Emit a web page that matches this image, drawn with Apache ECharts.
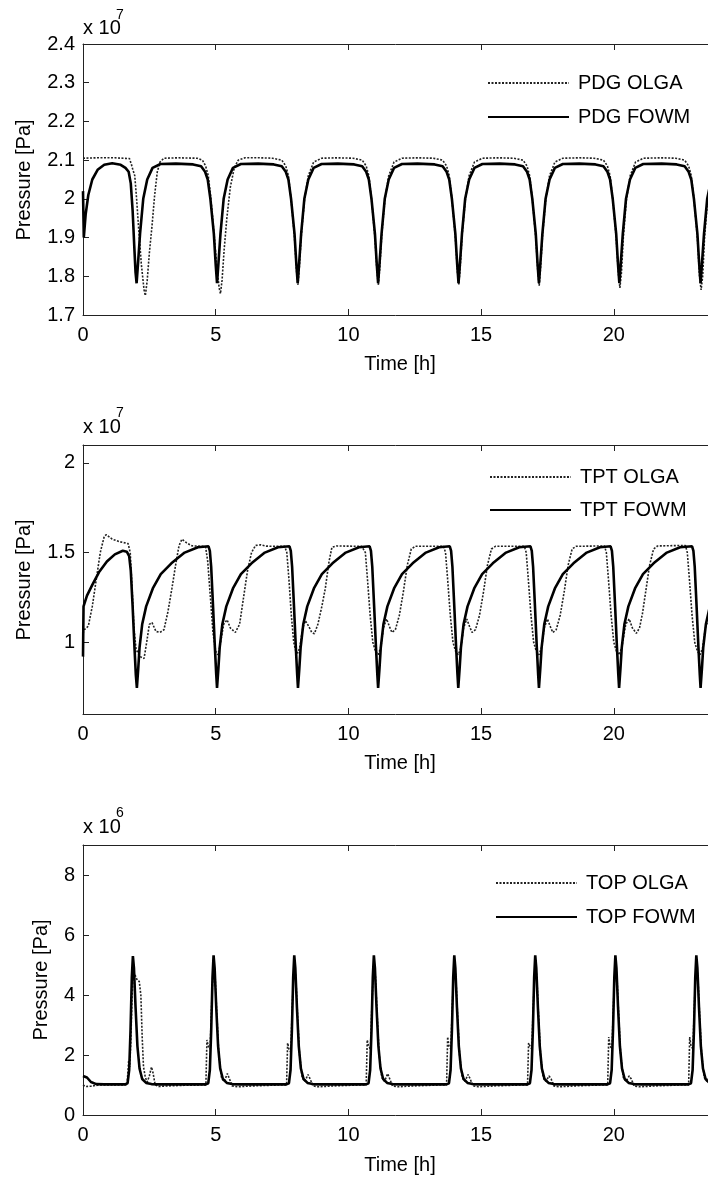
<!DOCTYPE html>
<html>
<head>
<meta charset="utf-8">
<script src="https://cdn.jsdelivr.net/npm/echarts@6/dist/echarts.min.js"></script>
<style>
html,body{margin:0;padding:0;background:#fff;}
#chart{width:708px;height:1178px;}
</style>
</head>
<body>
<div id="chart"></div>
<script>
// ---- data (time [h], pressure in displayed units) ----
const xTicks = [0, 5, 10, 15, 20];
const xTopTicks = [5, 10, 15, 20];
const pdgTicks = [1.7, 1.8, 1.9, 2, 2.1, 2.2, 2.3, 2.4];
const tptTicks = [1, 1.5, 2];
const topTicks = [0, 2, 4, 6, 8];
const legendPdg = ['PDG OLGA', 'PDG FOWM'];
const legendTpt = ['TPT OLGA', 'TPT FOWM'];
const legendTop = ['TOP OLGA', 'TOP FOWM'];

// PDG pressure, x 10^7 Pa
const pdgOlga = [[0,2.105],[0.5,2.106],[1.2,2.106],[1.75,2.104],[1.82,2.09],[1.88,2.075],[1.95,2.06],[2.02,2.0],[2.1,1.92],[2.2,1.83],[2.3,1.765],[2.35,1.75],[2.42,1.79],[2.5,1.86],[2.6,1.93],[2.7,2.01],[2.8,2.07],[2.9,2.095],[3.05,2.105],[3.6,2.106],
[4.3,2.105],[4.5,2.1],[4.62,2.085],[4.72,2.06],[4.82,2.0],[4.95,1.9],[5.05,1.82],[5.13,1.77],[5.18,1.755],[5.24,1.79],[5.32,1.87],[5.42,1.95],[5.55,2.03],[5.7,2.08],[5.85,2.1],[6.1,2.106],[6.7,2.106],
[7.14,2.105],[7.49,2.1],[7.64,2.085],[7.74,2.06],[7.84,2.0],[7.97,1.9],[8.05,1.81],[8.1,1.778],[8.15,1.82],[8.23,1.91],[8.35,2.0],[8.49,2.06],[8.69,2.095],[8.99,2.105],[9.6,2.106],
[10.17,2.105],[10.52,2.1],[10.67,2.085],[10.77,2.06],[10.87,2.0],[11.0,1.9],[11.08,1.81],[11.13,1.778],[11.18,1.82],[11.26,1.91],[11.38,2.0],[11.52,2.06],[11.72,2.095],[12.02,2.105],[12.6,2.106],
[13.2,2.105],[13.55,2.1],[13.7,2.085],[13.8,2.06],[13.9,2.0],[14.03,1.9],[14.11,1.81],[14.16,1.778],[14.21,1.82],[14.29,1.91],[14.41,2.0],[14.55,2.06],[14.75,2.095],[15.05,2.105],[15.7,2.106],
[16.23,2.105],[16.58,2.1],[16.73,2.085],[16.83,2.06],[16.93,2.0],[17.06,1.9],[17.14,1.81],[17.19,1.776],[17.24,1.82],[17.32,1.91],[17.44,2.0],[17.58,2.06],[17.78,2.095],[18.08,2.105],[18.7,2.106],
[19.26,2.105],[19.61,2.1],[19.76,2.085],[19.86,2.06],[19.96,2.0],[20.09,1.9],[20.17,1.81],[20.23,1.77],[20.29,1.81],[20.36,1.9],[20.48,2.0],[20.62,2.06],[20.82,2.095],[21.12,2.105],[21.8,2.106],
[22.32,2.105],[22.67,2.1],[22.82,2.085],[22.92,2.06],[23.02,2.0],[23.15,1.9],[23.23,1.8],[23.29,1.765],[23.35,1.8],[23.42,1.9],[23.54,2.0],[23.68,2.06]];

const pdgFowm = [[0,2.02],[0.03,1.9],[0.1,1.96],[0.2,2.01],[0.35,2.05],[0.55,2.075],[0.8,2.088],[1.1,2.092],[1.42,2.088],[1.6,2.08],[1.72,2.07],[1.8,2.04],[1.87,1.97],[1.93,1.88],[1.98,1.81],[2.02,1.782],[2.07,1.83],[2.15,1.91],[2.27,2.0],[2.42,2.05],[2.62,2.08],[2.92,2.09],[3.5,2.091],
[4.15,2.089],[4.45,2.084],[4.6,2.07],[4.7,2.05],[4.8,2.0],[4.93,1.91],[5.0,1.83],[5.05,1.782],[5.1,1.83],[5.18,1.91],[5.3,2.0],[5.45,2.05],[5.65,2.08],[5.95,2.09],[6.6,2.091],
[7.19,2.089],[7.49,2.084],[7.64,2.07],[7.74,2.05],[7.84,2.0],[7.97,1.91],[8.04,1.83],[8.09,1.782],[8.14,1.83],[8.22,1.91],[8.34,2.0],[8.49,2.05],[8.69,2.08],[8.99,2.09],[9.6,2.091],
[10.22,2.089],[10.52,2.084],[10.67,2.07],[10.77,2.05],[10.87,2.0],[11.0,1.91],[11.07,1.83],[11.12,1.782],[11.17,1.83],[11.25,1.91],[11.37,2.0],[11.52,2.05],[11.72,2.08],[12.02,2.09],[12.6,2.091],
[13.25,2.089],[13.55,2.084],[13.7,2.07],[13.8,2.05],[13.9,2.0],[14.03,1.91],[14.1,1.83],[14.15,1.782],[14.2,1.83],[14.28,1.91],[14.4,2.0],[14.55,2.05],[14.75,2.08],[15.05,2.09],[15.7,2.091],
[16.28,2.089],[16.58,2.084],[16.73,2.07],[16.83,2.05],[16.93,2.0],[17.06,1.91],[17.13,1.83],[17.18,1.782],[17.23,1.83],[17.31,1.91],[17.43,2.0],[17.58,2.05],[17.78,2.08],[18.08,2.09],[18.7,2.091],
[19.31,2.089],[19.61,2.084],[19.76,2.07],[19.86,2.05],[19.96,2.0],[20.09,1.91],[20.16,1.83],[20.21,1.782],[20.26,1.83],[20.34,1.91],[20.46,2.0],[20.61,2.05],[20.81,2.08],[21.11,2.09],[21.8,2.091],
[22.37,2.089],[22.67,2.084],[22.82,2.07],[22.92,2.05],[23.02,2.0],[23.15,1.91],[23.22,1.83],[23.27,1.782],[23.32,1.83],[23.4,1.91],[23.52,2.0],[23.67,2.05]];

// TPT pressure, x 10^7 Pa
const tptOlga = [[0,1.05],[0.05,1.07],[0.2,1.09],[0.35,1.2],[0.5,1.35],[0.65,1.5],[0.8,1.59],[0.88,1.6],[1.1,1.575],[1.4,1.56],[1.7,1.55],[1.78,1.5],[1.85,1.3],[1.92,1.08],[2.0,0.96],[2.15,0.92],[2.3,0.91],[2.4,1.0],[2.5,1.1],[2.6,1.11],[2.75,1.06],[2.9,1.055],[3.05,1.07],[3.2,1.17],[3.35,1.3],[3.5,1.44],[3.62,1.54],[3.73,1.575],[3.9,1.555],[4.1,1.538],[4.5,1.535],
[4.62,1.532],[4.7,1.45],[4.8,1.25],[4.9,1.05],[5.0,0.95],[5.08,0.93],[5.15,0.97],[5.3,1.1],[5.43,1.125],[5.55,1.08],[5.74,1.055],[5.9,1.1],[6.05,1.25],[6.2,1.4],[6.35,1.5],[6.5,1.54],[6.7,1.543],[6.9,1.536],[7.5,1.535],
[7.6,1.535],[7.68,1.5],[7.76,1.35],[7.85,1.15],[7.94,1.0],[8.02,0.95],[8.1,0.94],[8.18,0.98],[8.28,1.08],[8.38,1.12],[8.5,1.09],[8.62,1.055],[8.72,1.048],[8.85,1.1],[9.0,1.2],[9.13,1.3],[9.27,1.45],[9.38,1.53],[9.55,1.537],[10.5,1.535],
[10.57,1.535],[10.64,1.5],[10.72,1.35],[10.82,1.15],[10.92,1.0],[11.02,0.95],[11.12,0.93],[11.22,0.97],[11.32,1.08],[11.44,1.13],[11.54,1.09],[11.64,1.055],[11.77,1.07],[11.92,1.15],[12.07,1.28],[12.22,1.43],[12.37,1.52],[12.52,1.535],[13.5,1.535],
[13.59,1.535],[13.66,1.5],[13.74,1.35],[13.84,1.15],[13.94,1.0],[14.04,0.95],[14.14,0.93],[14.24,0.97],[14.34,1.08],[14.46,1.13],[14.56,1.09],[14.66,1.055],[14.79,1.07],[14.94,1.15],[15.09,1.28],[15.24,1.43],[15.39,1.52],[15.54,1.535],[16.5,1.535],
[16.63,1.535],[16.7,1.5],[16.78,1.35],[16.88,1.15],[16.98,1.0],[17.08,0.95],[17.18,0.93],[17.28,0.97],[17.38,1.08],[17.5,1.13],[17.6,1.09],[17.7,1.055],[17.83,1.07],[17.98,1.15],[18.13,1.28],[18.28,1.43],[18.43,1.52],[18.58,1.535],[19.5,1.537],
[19.65,1.537],[19.72,1.5],[19.8,1.35],[19.9,1.15],[20.0,1.0],[20.1,0.95],[20.2,0.93],[20.3,0.97],[20.45,1.1],[20.58,1.13],[20.7,1.08],[20.85,1.05],[20.97,1.08],[21.08,1.16],[21.2,1.28],[21.35,1.43],[21.5,1.52],[21.65,1.537],[22.6,1.54],
[22.7,1.54],[22.77,1.5],[22.85,1.35],[22.95,1.15],[23.05,1.0],[23.15,0.95],[23.25,0.93],[23.35,0.97],[23.45,1.08],[23.57,1.13],[23.67,1.09]];

const tptFowm = [[0,0.92],[0.02,1.2],[0.15,1.26],[0.35,1.32],[0.6,1.39],[0.9,1.45],[1.2,1.49],[1.5,1.51],[1.65,1.505],[1.74,1.48],[1.8,1.4],[1.87,1.2],[1.94,0.97],[1.99,0.82],[2.03,0.745],
[2.08,0.85],[2.13,0.97],[2.23,1.1],[2.38,1.2],[2.63,1.3],[2.93,1.38],[3.33,1.44],[3.83,1.5],[4.33,1.53],[4.73,1.535],[4.78,1.51],[4.83,1.42],[4.9,1.2],[4.97,0.97],[5.02,0.82],[5.05,0.745],
[5.1,0.85],[5.15,0.97],[5.25,1.1],[5.4,1.2],[5.65,1.3],[5.95,1.38],[6.35,1.44],[6.85,1.5],[7.35,1.53],[7.78,1.535],[7.83,1.51],[7.88,1.42],[7.95,1.2],[8.02,0.97],[8.07,0.82],[8.1,0.745],
[8.15,0.85],[8.2,0.97],[8.3,1.1],[8.45,1.2],[8.7,1.3],[9.0,1.38],[9.4,1.44],[9.9,1.5],[10.4,1.53],[10.8,1.535],[10.85,1.51],[10.9,1.42],[10.97,1.2],[11.04,0.97],[11.09,0.82],[11.12,0.745],
[11.17,0.85],[11.22,0.97],[11.32,1.1],[11.47,1.2],[11.72,1.3],[12.02,1.38],[12.42,1.44],[12.92,1.5],[13.42,1.53],[13.82,1.535],[13.87,1.51],[13.92,1.42],[13.99,1.2],[14.06,0.97],[14.11,0.82],[14.14,0.745],
[14.19,0.85],[14.24,0.97],[14.34,1.1],[14.49,1.2],[14.74,1.3],[15.04,1.38],[15.44,1.44],[15.94,1.5],[16.44,1.53],[16.86,1.535],[16.91,1.51],[16.96,1.42],[17.03,1.2],[17.1,0.97],[17.15,0.82],[17.18,0.745],
[17.23,0.85],[17.28,0.97],[17.38,1.1],[17.53,1.2],[17.78,1.3],[18.08,1.38],[18.48,1.44],[18.98,1.5],[19.48,1.53],[19.88,1.535],[19.93,1.51],[19.98,1.42],[20.05,1.2],[20.12,0.97],[20.17,0.82],[20.2,0.745],
[20.25,0.85],[20.3,0.97],[20.4,1.1],[20.55,1.2],[20.8,1.3],[21.1,1.38],[21.5,1.44],[22.0,1.5],[22.5,1.53],[22.95,1.535],[23.0,1.51],[23.05,1.42],[23.12,1.2],[23.19,0.97],[23.24,0.82],[23.27,0.745],
[23.32,0.85],[23.37,0.97],[23.47,1.1],[23.62,1.2]];

// TOP pressure, x 10^6 Pa
const topOlga = [[0,1.0],[0.1,0.95],[0.3,0.96],[0.6,1.0],[1.2,1.0],[1.66,1.0],[1.7,1.05],[1.72,1.8],[1.76,1.6],[1.8,2.4],[1.85,4.0],[1.9,4.8],[1.96,4.75],[2.04,4.5],[2.12,4.45],[2.18,4.0],[2.23,2.6],[2.28,1.6],[2.35,1.25],[2.42,1.1],[2.5,1.3],[2.58,1.6],[2.64,1.4],[2.72,1.0],[2.85,0.95],[3.2,0.97],[3.8,0.99],[4.5,1.0],
[4.63,1.0],[4.65,1.03],[4.67,2.5],[4.72,2.3],[4.79,2.2],[4.84,3.5],[4.89,4.6],[4.93,4.95],[4.98,4.6],[5.04,3.4],[5.12,2.0],[5.22,1.25],[5.32,1.12],[5.44,1.38],[5.52,1.2],[5.62,0.97],[5.82,0.94],[6.4,0.97],[7.4,1.0],
[7.67,1.0],[7.69,1.03],[7.71,2.4],[7.76,2.2],[7.83,2.1],[7.88,3.5],[7.93,4.6],[7.97,4.95],[8.02,4.6],[8.08,3.4],[8.16,2.0],[8.26,1.25],[8.36,1.12],[8.48,1.35],[8.56,1.2],[8.66,0.97],[8.86,0.94],[9.46,0.97],[10.4,1.0],
[10.67,1.0],[10.69,1.03],[10.71,2.5],[10.76,2.3],[10.83,2.2],[10.88,3.5],[10.93,4.6],[10.97,4.95],[11.02,4.6],[11.08,3.4],[11.16,2.0],[11.26,1.25],[11.36,1.12],[11.48,1.38],[11.56,1.2],[11.66,0.97],[11.86,0.94],[12.46,0.97],[13.4,1.0],
[13.7,1.0],[13.72,1.03],[13.74,2.6],[13.79,2.3],[13.86,2.2],[13.91,3.5],[13.96,4.6],[14.0,4.95],[14.05,4.6],[14.11,3.4],[14.19,2.0],[14.29,1.25],[14.39,1.12],[14.51,1.35],[14.59,1.2],[14.69,0.97],[14.89,0.94],[15.49,0.97],[16.45,1.0],
[16.75,1.0],[16.77,1.03],[16.79,2.4],[16.84,2.3],[16.91,2.2],[16.96,3.5],[17.01,4.6],[17.05,4.95],[17.1,4.6],[17.16,3.4],[17.24,2.0],[17.34,1.25],[17.44,1.12],[17.56,1.3],[17.64,1.2],[17.74,0.97],[17.94,0.94],[18.54,0.97],[19.5,1.0],
[19.77,1.0],[19.79,1.03],[19.81,2.6],[19.86,2.3],[19.93,2.2],[19.98,3.5],[20.03,4.6],[20.07,4.95],[20.12,4.6],[20.18,3.4],[20.26,2.0],[20.36,1.25],[20.46,1.12],[20.58,1.3],[20.66,1.2],[20.76,0.97],[20.96,0.94],[21.56,0.97],[22.5,1.0],
[22.82,1.0],[22.84,1.03],[22.86,2.6],[22.91,2.3],[22.98,2.2],[23.03,3.5],[23.08,4.6],[23.12,4.95],[23.17,4.6],[23.23,3.4],[23.31,2.0],[23.41,1.25],[23.51,1.12],[23.63,1.3]];

const topFowm = [[0,1.3],[0.05,1.33],[0.15,1.25],[0.3,1.1],[0.5,1.03],[0.8,1.02],
[1.58,1.02],[1.68,1.06],[1.74,1.5],[1.79,2.8],[1.84,4.6],[1.88,5.3],[1.92,4.9],[1.98,3.6],[2.05,2.3],[2.13,1.55],[2.23,1.2],[2.38,1.07],[2.58,1.03],[2.88,1.02],
[4.62,1.02],[4.72,1.06],[4.78,1.5],[4.83,2.8],[4.88,4.6],[4.92,5.32],[4.96,4.9],[5.02,3.6],[5.09,2.3],[5.17,1.55],[5.27,1.2],[5.42,1.07],[5.62,1.03],[5.92,1.02],
[7.66,1.02],[7.76,1.06],[7.82,1.5],[7.87,2.8],[7.92,4.6],[7.96,5.32],[8.0,4.9],[8.06,3.6],[8.13,2.3],[8.21,1.55],[8.31,1.2],[8.46,1.07],[8.66,1.03],[8.96,1.02],
[10.66,1.02],[10.76,1.06],[10.82,1.5],[10.87,2.8],[10.92,4.6],[10.96,5.32],[11.0,4.9],[11.06,3.6],[11.13,2.3],[11.21,1.55],[11.31,1.2],[11.46,1.07],[11.66,1.03],[11.96,1.02],
[13.69,1.02],[13.79,1.06],[13.85,1.5],[13.9,2.8],[13.95,4.6],[13.99,5.32],[14.03,4.9],[14.09,3.6],[14.16,2.3],[14.24,1.55],[14.34,1.2],[14.49,1.07],[14.69,1.03],[14.99,1.02],
[16.74,1.02],[16.84,1.06],[16.9,1.5],[16.95,2.8],[17.0,4.6],[17.04,5.32],[17.08,4.9],[17.14,3.6],[17.21,2.3],[17.29,1.55],[17.39,1.2],[17.54,1.07],[17.74,1.03],[18.04,1.02],
[19.76,1.02],[19.86,1.06],[19.92,1.5],[19.97,2.8],[20.02,4.6],[20.06,5.32],[20.1,4.9],[20.16,3.6],[20.23,2.3],[20.31,1.55],[20.41,1.2],[20.56,1.07],[20.76,1.03],[21.06,1.02],
[22.81,1.02],[22.91,1.06],[22.97,1.5],[23.02,2.8],[23.07,4.6],[23.11,5.32],[23.15,4.9],[23.21,3.6],[23.28,2.3],[23.36,1.55],[23.46,1.2],[23.61,1.07]];

// ---- chart ----
const FONT = '"Liberation Sans", Arial, sans-serif';
const AX = '#222';
const XMAX = 23.55;

const grids = [
  {left: 83, right: 0, top: 44, height: 271},
  {left: 83, right: 0, top: 445, height: 269},
  {left: 83, right: 0, top: 845, height: 270}
];
const yRanges = [[1.7, 2.4, pdgTicks], [0.6, 2.1, tptTicks], [0, 9, topTicks]];

const xAxes = [];
const yAxes = [];
grids.forEach((g, i) => {
  xAxes.push({
    type: 'value', gridIndex: i, min: 0, max: XMAX, position: 'bottom',
    axisLine: {show: true, lineStyle: {color: AX, width: 1}},
    axisTick: {show: true, inside: true, length: 6, customValues: xTicks, lineStyle: {color: AX}},
    axisLabel: {show: true, customValues: xTicks, margin: 10, fontSize: 20, lineHeight: 20, fontFamily: FONT, color: '#000'},
    splitLine: {show: false}
  });
  xAxes.push({
    type: 'value', gridIndex: i, min: 0, max: XMAX, position: 'top',
    axisLine: {show: true, lineStyle: {color: AX, width: 1}},
    axisTick: {show: true, inside: true, length: 6, customValues: xTopTicks, lineStyle: {color: AX}},
    axisLabel: {show: false},
    splitLine: {show: false}
  });
  const r = yRanges[i];
  yAxes.push({
    type: 'value', gridIndex: i, min: r[0], max: r[1], position: 'left',
    axisLine: {show: true, lineStyle: {color: AX, width: 1}},
    axisTick: {show: true, inside: true, length: 6, customValues: r[2], lineStyle: {color: AX}},
    axisLabel: {show: true, customValues: r[2], margin: 8, fontSize: 20, fontFamily: FONT, color: '#000'},
    splitLine: {show: false}
  });
});

const olgaStyle = {color: '#222', width: 1.6, type: [2, 1.5]};
const fowmStyle = {color: '#000', width: 2.6, type: 'solid'};

function mk(name, data, gi, style) {
  return {
    name: name, type: 'line', data: data, xAxisIndex: gi * 2, yAxisIndex: gi,
    showSymbol: false, symbol: 'none', lineStyle: style, itemStyle: {color: style.color},
    animation: false, silent: true, clip: true
  };
}

const series = [
  mk(legendPdg[0], pdgOlga, 0, olgaStyle), mk(legendPdg[1], pdgFowm, 0, fowmStyle),
  mk(legendTpt[0], tptOlga, 1, olgaStyle), mk(legendTpt[1], tptFowm, 1, fowmStyle),
  mk(legendTop[0], topOlga, 2, olgaStyle), mk(legendTop[1], topFowm, 2, fowmStyle)
];

function lg(data, left, top, gap) {
  return {
    data: data, orient: 'vertical', left: left, top: top, itemGap: gap, padding: 0,
    itemWidth: 81, itemHeight: 14, selectedMode: false,
    itemStyle: {color: 'rgba(0,0,0,0)', borderWidth: 0, opacity: 0},
    textStyle: {fontSize: 20, lineHeight: 20, fontFamily: FONT, color: '#000', padding: [0, 0, 0, 4]}
  };
}

function txt(x, y, s, size) {
  return {
    type: 'text', x: x, y: y, silent: true,
    style: {text: s, fontSize: size, fontFamily: FONT, fill: '#000', align: 'left', verticalAlign: 'middle'}
  };
}
function ylab(x, y) {
  return {
    type: 'text', x: x, y: y, rotation: Math.PI / 2, silent: true,
    style: {text: 'Pressure [Pa]', fontSize: 20, fontFamily: FONT, fill: '#000', align: 'center', verticalAlign: 'middle'}
  };
}
function xlab(y) {
  return {
    type: 'text', x: 400, y: y, silent: true,
    style: {text: 'Time [h]', fontSize: 20, fontFamily: FONT, fill: '#000', align: 'center', verticalAlign: 'middle'}
  };
}

const graphic = [
  txt(83, 28, 'x 10', 20), txt(116, 15, '7', 14),
  txt(83, 427, 'x 10', 20), txt(116, 413, '7', 14),
  txt(83, 827, 'x 10', 20), txt(116, 813, '6', 14),
  ylab(24, 180), ylab(24, 580), ylab(41, 980),
  xlab(364), xlab(763), xlab(1165)
];

const chart = echarts.init(document.getElementById('chart'), null, {renderer: 'canvas'});
chart.setOption({
  animation: false,
  backgroundColor: '#fff',
  grid: grids,
  xAxis: xAxes,
  yAxis: yAxes,
  legend: [lg(legendPdg, 487, 73, 14), lg(legendTpt, 489, 467, 13), lg(legendTop, 495, 873, 14)],
  graphic: graphic,
  series: series
});
</script>
</body>
</html>
